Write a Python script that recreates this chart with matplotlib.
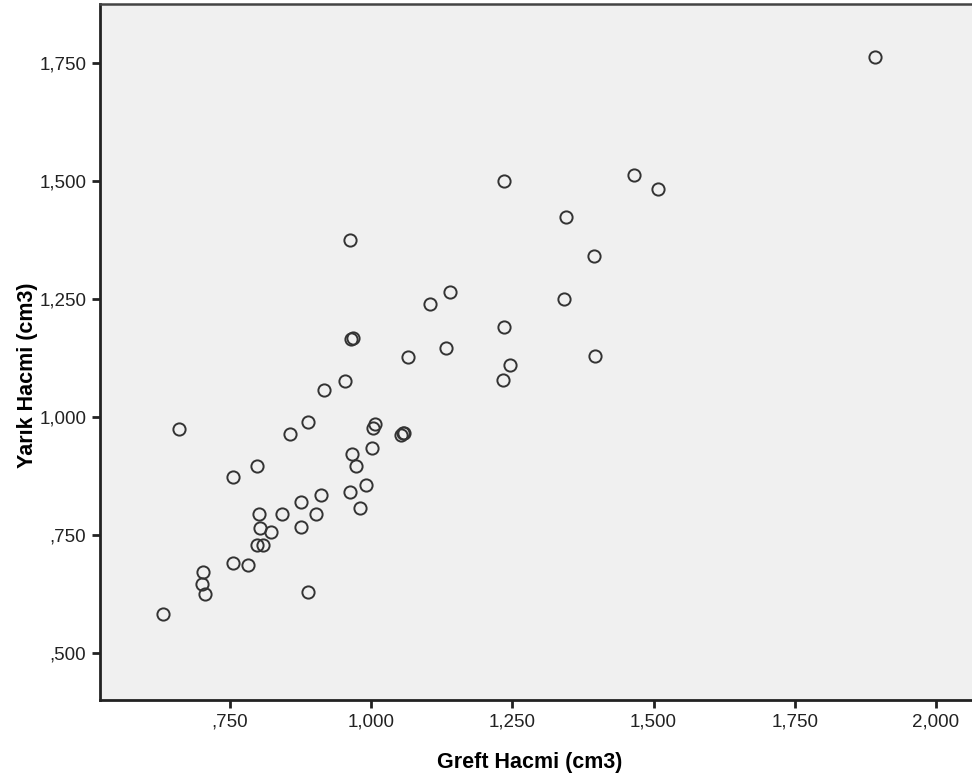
import matplotlib.pyplot as plt
from matplotlib.ticker import FuncFormatter

# Greft Hacmi (cm3) vs Yarik Hacmi (cm3)
greft = [1.892, 1.465, 1.507, 1.236, 1.345, 0.962, 1.395, 1.140, 1.105, 1.342,
         1.236, 0.965, 0.968, 1.132, 1.066, 1.396, 1.245, 1.234, 0.954, 0.916,
         0.889, 0.659, 0.856, 1.007, 1.004, 1.053, 1.058, 1.056, 1.001, 0.966,
         0.974, 0.798, 0.755, 0.991, 0.962, 0.912, 0.876, 0.842, 0.801, 0.903,
         0.981, 0.804, 0.823, 0.876, 0.798, 0.808, 0.755, 0.782, 0.703, 0.701,
         0.705, 0.889, 0.631]
yarik = [1.762, 1.513, 1.483, 1.499, 1.423, 1.374, 1.340, 1.265, 1.238, 1.250,
         1.191, 1.165, 1.168, 1.146, 1.126, 1.128, 1.109, 1.078, 1.076, 1.056,
         0.990, 0.974, 0.964, 0.985, 0.976, 0.962, 0.966, 0.965, 0.935, 0.922,
         0.896, 0.896, 0.872, 0.856, 0.841, 0.835, 0.820, 0.795, 0.795, 0.795,
         0.807, 0.766, 0.757, 0.767, 0.729, 0.729, 0.691, 0.686, 0.671, 0.647,
         0.626, 0.630, 0.583]

x_ticks = [0.75, 1.0, 1.25, 1.5, 1.75, 2.0]
y_ticks = [0.5, 0.75, 1.0, 1.25, 1.5, 1.75]


def spss_fmt(v, pos):
    # SPSS style: decimal comma, no leading zero
    s = '{:.3f}'.format(v).replace('.', ',')
    if s.startswith('0'):
        s = s[1:]
    return s


plt.rcParams['font.family'] = ['Liberation Sans', 'DejaVu Sans']

fig = plt.figure(figsize=(9.72, 7.82), dpi=100)
ax = fig.add_axes([0.1029, 0.1049, 0.9, 0.8900])
ax.set_facecolor('#f0f0f0')

ax.plot(greft, yarik, 'o', ls='none', ms=8.8, mfc='none', mec='#333333', mew=1.4)

ax.set_xlim(0.520, 0.520 + (2.0637 - 0.520) * 0.9 / 0.8971)
ax.set_ylim(0.401, 1.874)
ax.set_xticks(x_ticks)
ax.set_yticks(y_ticks)
ax.xaxis.set_major_formatter(FuncFormatter(spss_fmt))
ax.yaxis.set_major_formatter(FuncFormatter(spss_fmt))

for s in ['left', 'bottom']:
    ax.spines[s].set_linewidth(2)
    ax.spines[s].set_color('#222222')
ax.spines['top'].set_linewidth(1.8)
ax.spines['top'].set_color('#444444')
ax.spines['right'].set_visible(False)

ax.tick_params(axis='both', direction='out', length=6, width=2, color='#222222',
               labelsize=13.5, labelcolor='#222222', pad=4)

ax.set_xlabel('Greft Hacmi (cm3)', fontsize=15.5, fontweight='bold')
ax.set_ylabel('Yarık Hacmi (cm3)', fontsize=15.5, fontweight='bold')
ax.xaxis.set_label_coords(0.491, -0.075)
ax.yaxis.set_label_coords(-0.071, 0.467)

fig.savefig('out.png', dpi=100, facecolor='white')
